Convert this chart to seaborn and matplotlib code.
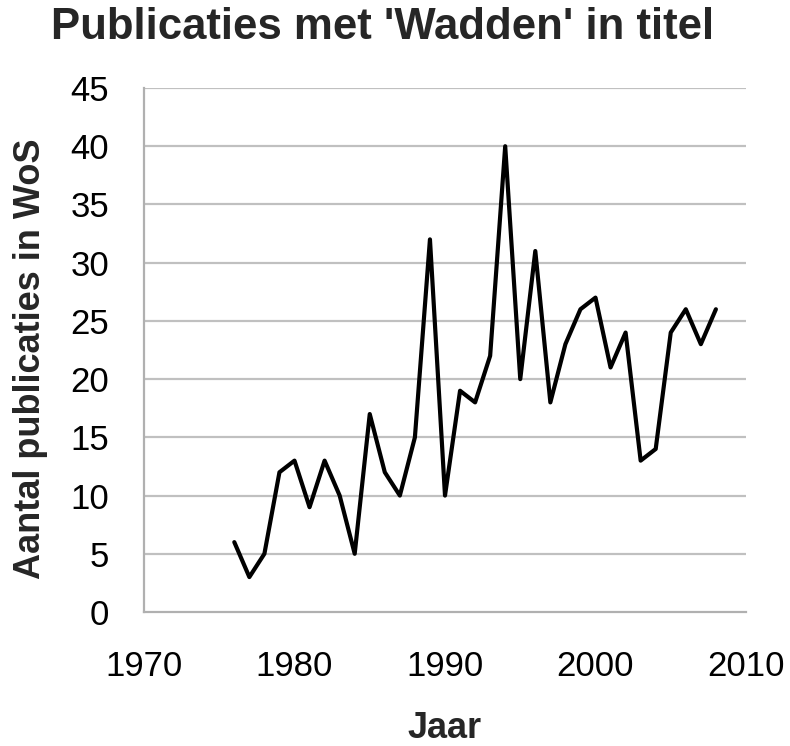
import matplotlib
matplotlib.use("Agg")
import matplotlib.pyplot as plt
import seaborn as sns
import pandas as pd

years = list(range(1976, 2009))
counts = [6, 3, 5, 12, 13, 9, 13, 10, 5, 17, 12, 10, 15, 32, 10,
          19, 18, 22, 40, 20, 31, 18, 23, 26, 27, 21, 24, 13, 14, 24, 26, 23, 26]
y_ticks = [0, 5, 10, 15, 20, 25, 30, 35, 40, 45]
x_ticks = [1970, 1980, 1990, 2000, 2010]

df = pd.DataFrame({"Jaar": years, "Aantal": counts})

sns.set_theme(style="white")
plt.rcParams["font.family"] = ["Liberation Sans", "DejaVu Sans"]

fig = plt.figure(figsize=(7.9, 7.46), dpi=100)
# axes box in pixels: left 144, right 746, top 88, bottom 612
ax = fig.add_axes([144 / 790, 1 - 612 / 746, (746 - 144) / 790, (612 - 88) / 746])

for t in y_ticks[1:]:
    ax.axhline(t, color="#c0c0c0", linewidth=1.6, zorder=0)

sns.lineplot(data=df, x="Jaar", y="Aantal", color="black", linewidth=3.0, ax=ax)

ax.set_xlim(1970, 2010)
ax.set_ylim(0, 45)
ax.set_xticks(x_ticks)
ax.set_yticks(y_ticks)
ax.tick_params(axis="y", labelsize=25, length=0, pad=25, colors="black")
ax.tick_params(axis="x", labelsize=25, length=0, pad=27, colors="black")
for s in ["top", "right"]:
    ax.spines[s].set_visible(False)
for s in ["left", "bottom"]:
    ax.spines[s].set_color("#b0b0b0")
    ax.spines[s].set_linewidth(1.6)

ax.set_xlabel("Jaar", fontsize=26, fontweight="bold", va="baseline")
ax.xaxis.set_label_coords(0.5, -0.2405)
ax.set_ylabel("Aantal publicaties in WoS", fontsize=26, fontweight="bold")
ax.yaxis.set_label_coords(-0.16, 0.483)
fig.suptitle("Publicaties met 'Wadden' in titel", fontsize=31.5, fontweight="bold",
             x=0.484, y=0.99)

fig.savefig("out.png", dpi=100)
